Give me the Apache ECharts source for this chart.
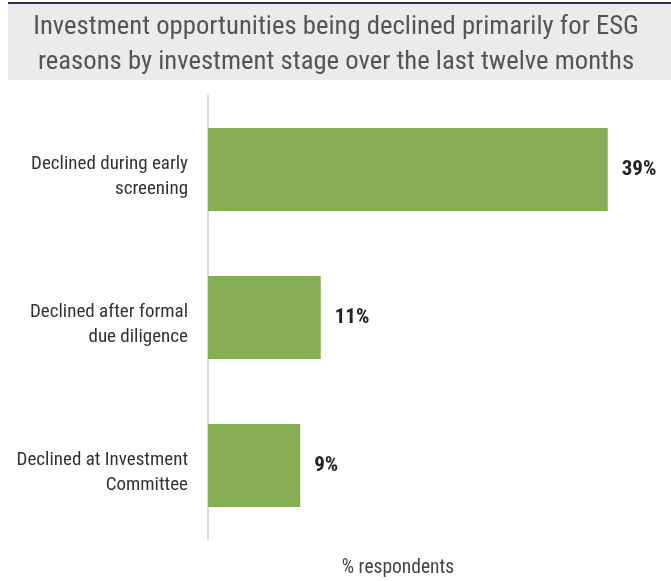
<!DOCTYPE html>
<html>
<head>
<meta charset="utf-8">
<script src="https://cdn.jsdelivr.net/npm/echarts@6/dist/echarts.min.js"></script>
<style>
  html, body { margin: 0; padding: 0; background: #fff; }
  #chart { width: 671px; height: 581px; }
</style>
</head>
<body>
<div id="chart"></div>
<script>
// Investment stages (top to bottom) and share of respondents declining for ESG reasons
const stages = [
  'Declined during early\nscreening',
  'Declined after formal\ndue diligence',
  'Declined at Investment\nCommittee'
];
const shares = [39, 11, 9];
const titleLines = [
  'Investment opportunities being declined primarily for ESG',
  'reasons by investment stage over the last twelve months'
];
const axisName = '% respondents';

const FONT = '"Roboto Condensed", "Liberation Sans Narrow", Roboto, sans-serif';

const chart = echarts.init(document.getElementById('chart'), null, { renderer: 'canvas' });

chart.setOption({
  animation: false,
  backgroundColor: '#ffffff',
  graphic: [
    { type: 'rect', shape: { x: 8, y: 4, width: 663, height: 76 }, style: { fill: '#e9ebec' }, silent: true },
    { type: 'rect', shape: { x: 8, y: 2, width: 663, height: 2 }, style: { fill: '#2e2a5a' }, silent: true },
    {
      type: 'text', x: 336, y: 45,
      style: {
        text: titleLines.join('\n'), fill: '#555555', font: '26.7px ' + FONT,
        align: 'center', verticalAlign: 'middle', lineHeight: 35
      }
    },
    {
      type: 'text', x: 398, y: 568,
      style: {
        text: axisName, fill: '#444444', font: '19.5px ' + FONT,
        align: 'center', verticalAlign: 'middle'
      }
    }
  ],
  grid: { left: 208, right: 53, top: 95.5, bottom: 41.5, containLabel: false },
  xAxis: {
    type: 'value', min: 0, max: 40,
    axisLine: { show: false }, axisTick: { show: false },
    axisLabel: { show: false }, splitLine: { show: false }
  },
  yAxis: {
    type: 'category', inverse: true, data: stages,
    axisLine: { show: true, lineStyle: { color: '#d9d9d9', width: 2 } },
    axisTick: { show: false },
    axisLabel: {
      margin: 20, align: 'right',
      // a short blank line on top nudges each two-line label slightly below the bar centre
      formatter: v => '{s| }\n' + v.split('\n').map(l => '{t|' + l + '}').join('\n'),
      rich: {
        s: { fontSize: 2, lineHeight: 14, height: 14 },
        t: { color: '#333333', fontFamily: FONT, fontSize: 19, lineHeight: 25, align: 'right' }
      }
    }
  },
  series: [{
    type: 'bar', data: shares, barWidth: 83,
    itemStyle: { color: '#86ae55' },
    label: {
      show: true, position: 'right', distance: 14,
      formatter: p => p.value + '%',
      color: '#222222', fontFamily: FONT, fontWeight: 'bold', fontSize: 21
    }
  }]
});
</script>
</body>
</html>
